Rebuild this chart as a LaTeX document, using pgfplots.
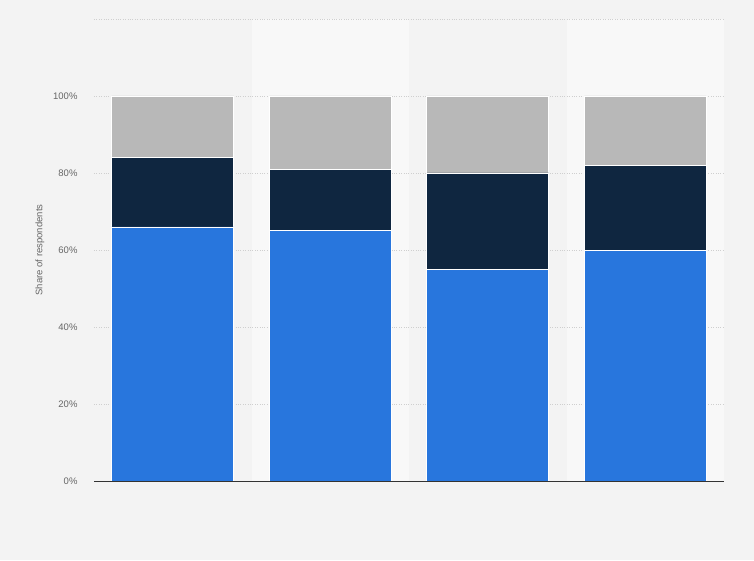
\documentclass[border=0pt]{standalone}
\usepackage{pgfplots}
\pgfplotsset{compat=1.18}
\usepackage{fontspec}
\setmainfont{Liberation Sans}
\definecolor{bgc}{HTML}{F3F3F3}
\definecolor{bandc}{HTML}{F8F8F8}
\definecolor{sblue}{HTML}{2876DD}
\definecolor{snavy}{HTML}{0F2640}
\definecolor{sgray}{HTML}{B8B8B8}
\definecolor{txt}{HTML}{666666}
\definecolor{gridc}{HTML}{CFCFCF}
\begin{document}
\begin{tikzpicture}[x=1pt,y=1pt]
% page background, 754 x 560 px; axis lower left corner at pixel (94,481)
\fill[bgc] (-94,-79) rectangle (660,481);
\path[use as bounding box] (-94,-79) rectangle (660,481);
% lighter bands behind categories 2 and 4
\fill[bandc] (157.5,0) rectangle (315,462);
\fill[bandc] (472.5,0) rectangle (630,462);
\begin{axis}[
    at={(0,0)}, anchor=south west,
    scale only axis,
    width=630pt, height=462pt,
    xmin=-0.5, xmax=3.5,
    ymin=0, ymax=120,
    ybar stacked,
    bar width=122pt,
    axis x line*=bottom,
    axis y line*=left,
    y axis line style={draw=none},
    x axis line style={draw=none},
    xtick=\empty,
    ytick={0,20,40,60,80,100},
    extra y ticks={120},
    extra y tick labels={},
    major tick length=0pt,
    ymajorgrids,
    grid style={gridc, dotted, line width=0.6pt},
    yticklabel={\pgfmathprintnumber{\tick}\%},
    /pgf/number format/assume math mode=true,
    yticklabel style={font=\fontsize{9.5}{11}\selectfont, text=txt, xshift=-13pt},
    every axis plot/.append style={draw=white, line width=0.6pt},
]
\addplot[fill=sblue] coordinates {(0,66) (1,65) (2,55) (3,60)};
\addplot[fill=snavy] coordinates {(0,18) (1,16) (2,25) (3,22)};
\addplot[fill=sgray] coordinates {(0,16) (1,19) (2,20) (3,18)};
\end{axis}
% baseline drawn over the bars, as in the reference
\draw[black!80, line width=0.8pt] (0,0) -- (630,0);
\node[rotate=90, font=\fontsize{9.5}{11}\selectfont, text=txt] at (-54,231) {Share of respondents};
\end{tikzpicture}
\end{document}
